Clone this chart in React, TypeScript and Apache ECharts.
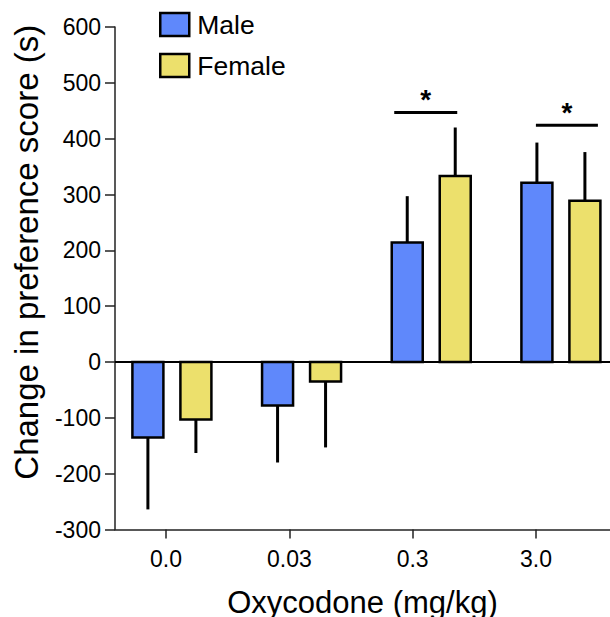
import React, { useEffect, useRef } from "react";
import * as echarts from "echarts";

const doseLabels = ["0.0", "0.03", "0.3", "3.0"];
const sexNames = ["Male", "Female"];
const maleMeans = [-135, -78, 214, 321];
const maleErrors = [129, 102, 83, 72];
const femaleMeans = [-103, -35, 333, 289];
const femaleErrors = [60, 118, 87, 87];
const sigGroups = [2, 3];
const sigLevels = [447, 424];
const sigMarks = ["*", "*"];

// layout (pixel) constants
const BAR_WIDTH = 31;
const BAR_OFFSET = [-24, 24];
const SIG_SPANS = [
  [-37, 26],
  [-25, 37],
];
const COLORS = ["#5f88fb", "#ece06c"];
const FONT = "Liberation Sans, Arial, Helvetica, sans-serif";

export default function App() {
  const ref = useRef<HTMLDivElement>(null);
  useEffect(() => {
    if (!ref.current) return;
    const chart = echarts.init(ref.current, undefined, { renderer: "svg", width: 610, height: 617 });

    const barSeries = (k: number, means: number[], errs: number[]) => ({
      name: sexNames[k],
      type: "custom",
      xAxisIndex: 1,
      yAxisIndex: 0,
      itemStyle: { color: COLORS[k], borderColor: "#000", borderWidth: 2.5 },
      data: means.map((m, i) => [i, m, errs[i]]),
      renderItem: (params: any, api: any) => {
        const x = api.value(0);
        const y = api.value(1);
        const e = api.value(2);
        const base = api.coord([x, 0]);
        const end = api.coord([x, y]);
        const errEnd = api.coord([x, y + (y >= 0 ? e : -e)]);
        const cx = base[0] + BAR_OFFSET[k];
        const top = Math.min(base[1], end[1]);
        const h = Math.abs(base[1] - end[1]);
        return {
          type: "group",
          children: [
            {
              type: "line",
              shape: { x1: cx, y1: end[1], x2: cx, y2: errEnd[1] },
              style: { stroke: "#000", lineWidth: 3 },
            },
            {
              type: "rect",
              shape: { x: cx - BAR_WIDTH / 2, y: top, width: BAR_WIDTH, height: h },
              style: { fill: COLORS[k], stroke: "#000", lineWidth: 2.5 },
            },
          ],
        };
      },
    });

    const option: any = {
      animation: false,
      textStyle: { fontFamily: FONT },
      grid: {
        left: 115,
        right: 0,
        top: 27,
        bottom: 87.5,
        containLabel: false,
        outerBoundsMode: "none",
      },
      legend: {
        orient: "vertical",
        left: 154,
        top: 6,
        itemWidth: 29,
        itemHeight: 23,
        itemGap: 14,
        icon: "rect",
        textStyle: { fontSize: 26.5, color: "#000", fontFamily: FONT, padding: [0, 0, 0, 3] },
        data: sexNames.map((n, k) => ({
          name: n,
          itemStyle: { color: COLORS[k], borderColor: "#000", borderWidth: 2.5 },
        })),
      },
      xAxis: [
        {
          type: "value",
          min: -0.4135,
          max: 3.6,
          position: "bottom",
          name: "Oxycodone (mg/kg)",
          nameLocation: "middle",
          nameGap: 57,
          nameTextStyle: { fontSize: 31, color: "#000", fontFamily: FONT },
          axisLine: { show: true, onZero: false, lineStyle: { color: "#222", width: 1.5 } },
          axisTick: {
            show: true,
            length: 9,
            customValues: [0, 1, 2, 3],
            lineStyle: { color: "#222", width: 1.5 },
          },
          axisLabel: {
            customValues: [0, 1, 2, 3],
            fontSize: 23,
            color: "#000",
            margin: 18,
            fontFamily: FONT,
            formatter: (v: number) => doseLabels[Math.round(v)] ?? "",
          },
          splitLine: { show: false },
        },
        {
          type: "value",
          show: false,
          min: -0.4388,
          max: 3.3786,
          position: "bottom",
          splitLine: { show: false },
        },
      ],
      yAxis: {
        type: "value",
        min: -300,
        max: 600,
        interval: 100,
        name: "Change in preference score (s)",
        nameLocation: "middle",
        nameGap: 72,
        nameTextStyle: { fontSize: 33, color: "#000", fontFamily: FONT, padding: [0, 0, 0, 52] },
        axisLine: { show: true, onZero: false, lineStyle: { color: "#222", width: 1.5 } },
        axisTick: { show: true, length: 10, lineStyle: { color: "#222", width: 1.5 } },
        axisLabel: { fontSize: 23, color: "#000", margin: 14, fontFamily: FONT },
        splitLine: { show: false },
      },
      series: [
        {
          name: "zero",
          type: "custom",
          xAxisIndex: 1,
          yAxisIndex: 0,
          silent: true,
          data: [[0, 0]],
          renderItem: (params: any, api: any) => {
            const p = api.coord([0, 0]);
            const cs = params.coordSys;
            return {
              type: "line",
              shape: { x1: cs.x, y1: p[1], x2: cs.x + cs.width, y2: p[1] },
              style: { stroke: "#000", lineWidth: 2 },
            };
          },
        },
        barSeries(0, maleMeans, maleErrors),
        barSeries(1, femaleMeans, femaleErrors),
        {
          name: "significance",
          type: "custom",
          xAxisIndex: 1,
          yAxisIndex: 0,
          silent: true,
          data: sigGroups.map((g, i) => [g, sigLevels[i], i]),
          renderItem: (params: any, api: any) => {
            const g = api.value(0);
            const lvl = api.value(1);
            const idx = api.value(2);
            const p = api.coord([g, lvl]);
            const span = SIG_SPANS[idx];
            const x1 = p[0] + span[0];
            const x2 = p[0] + span[1];
            return {
              type: "group",
              children: [
                {
                  type: "line",
                  shape: { x1, y1: p[1], x2, y2: p[1] },
                  style: { stroke: "#000", lineWidth: 3 },
                },
                {
                  type: "text",
                  x: (x1 + x2) / 2,
                  y: p[1] + 1,
                  style: {
                    text: sigMarks[idx],
                    fontSize: 28,
                    fontWeight: "bold",
                    fontFamily: FONT,
                    fill: "#000",
                    align: "center",
                    verticalAlign: "bottom",
                  },
                },
              ],
            };
          },
        },
      ],
    };
    chart.setOption(option);
    return () => chart.dispose();
  }, []);
  return <div ref={ref} style={{ width: 610, height: 617, position: "absolute", left: 0, top: 0 }} />;
}
